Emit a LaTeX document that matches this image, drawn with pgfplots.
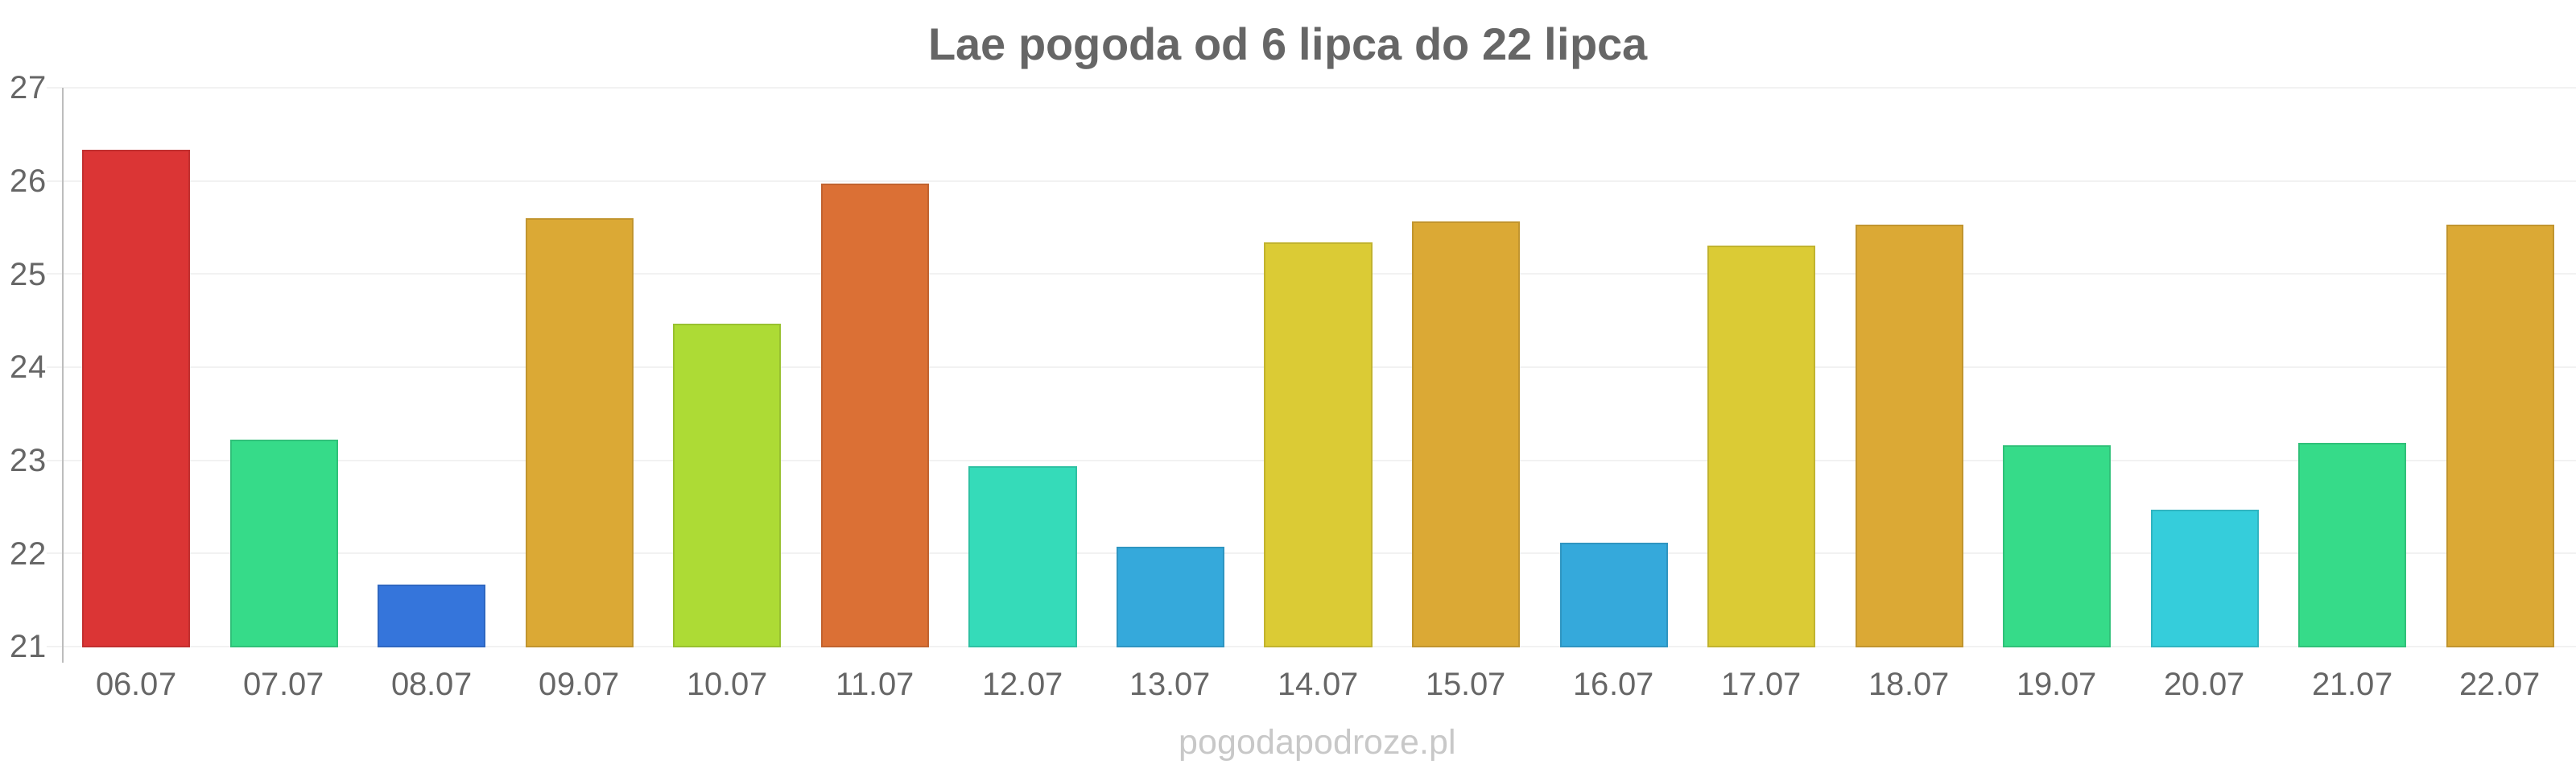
\documentclass[border=0pt]{standalone}
\usepackage{pgfplots}
\pgfplotsset{compat=1.18}
\usepackage{fontspec}
\setmainfont{Liberation Sans}

\definecolor{txtgray}{HTML}{666666}
\definecolor{wmgray}{HTML}{C8C8C8}
\definecolor{gridgray}{HTML}{F2F2F2}
\definecolor{axisgray}{HTML}{BDBDBD}
\definecolor{cRed}{HTML}{DB3535}
\definecolor{cGreen}{HTML}{36DB89}
\definecolor{cBlue}{HTML}{3575DB}
\definecolor{cGold}{HTML}{DBA935}
\definecolor{cLime}{HTML}{ADDB35}
\definecolor{cOrange}{HTML}{DB7035}
\definecolor{cTeal}{HTML}{35DBB9}
\definecolor{cSky}{HTML}{35A9DB}
\definecolor{cYellow}{HTML}{DBCB35}
\definecolor{cCyan}{HTML}{35CDDB}

% one bar per day, coloured by temperature
\newcommand{\daybar}[3]{%
  \addplot[fill=#1, draw=#1!88!black, line width=0.5pt] coordinates {(#2,#3)};}

\begin{document}
\begin{tikzpicture}
\path[use as bounding box] (0,0) rectangle (800pt,240pt);
\begin{axis}[
  at={(19.375pt,39.25pt)}, anchor=south west,
  scale only axis, width=780pt, height=173.5pt,
  ybar, bar width=0.72, bar shift=0pt,
  xmin=-0.5, xmax=16.5, ymin=21, ymax=27,
  ytick={21,22,23,24,25,26,27},
  xtick={0,...,16},
  xticklabels={06.07,07.07,08.07,09.07,10.07,11.07,12.07,13.07,14.07,15.07,16.07,17.07,18.07,19.07,20.07,21.07,22.07},
  ymajorgrids, grid style={draw=gridgray, line width=0.5pt},
  axis line style={draw=none},
  x tick style={draw=none},
  y tick style={draw=gridgray, line width=0.5pt},
  tick align=outside, major tick length=5pt,
  /pgf/number format/assume math mode=true,
  tick label style={font=\fontsize{10pt}{12pt}\selectfont, text=txtgray},
  yticklabel style={xshift=3.5pt},
  xticklabel style={yshift=0.5pt},
  clip=false,
]
\daybar{cRed}{0}{26.33}
\daybar{cGreen}{1}{23.21}
\daybar{cBlue}{2}{21.66}
\daybar{cGold}{3}{25.59}
\daybar{cLime}{4}{24.46}
\daybar{cOrange}{5}{25.96}
\daybar{cTeal}{6}{22.93}
\daybar{cSky}{7}{22.06}
\daybar{cYellow}{8}{25.33}
\daybar{cGold}{9}{25.56}
\daybar{cSky}{10}{22.11}
\daybar{cYellow}{11}{25.30}
\daybar{cGold}{12}{25.52}
\daybar{cGreen}{13}{23.15}
\daybar{cCyan}{14}{22.46}
\daybar{cGreen}{15}{23.18}
\daybar{cGold}{16}{25.52}
\draw[axisgray, line width=0.5pt] (rel axis cs:0,1) -- ([yshift=-5pt]rel axis cs:0,0);
\end{axis}
\node[anchor=base, text=txtgray, font=\fontsize{14pt}{17pt}\selectfont\bfseries] at (400pt,221.25pt) {Lae pogoda od 6 lipca do 22 lipca};
\node[text=wmgray, font=\fontsize{10.75pt}{13pt}\selectfont] at (409.25pt,8.75pt) {pogodapodroze.pl};
\end{tikzpicture}
\end{document}
